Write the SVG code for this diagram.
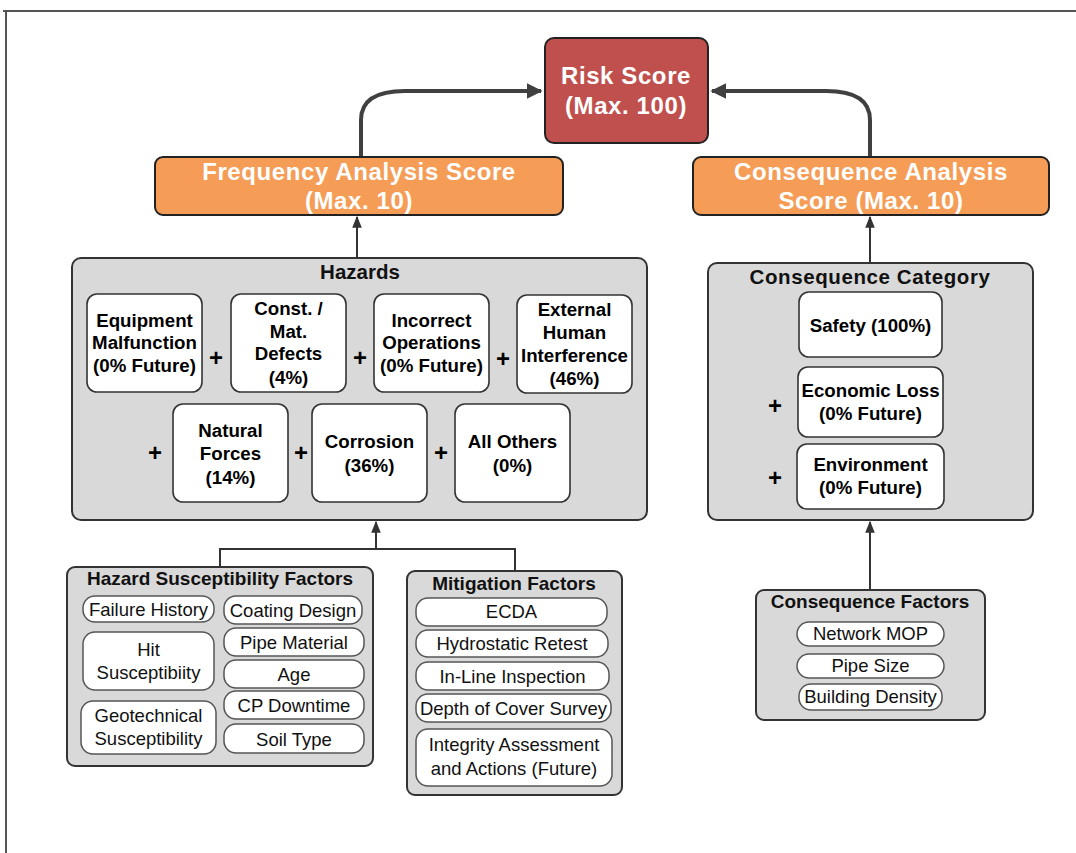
<svg xmlns="http://www.w3.org/2000/svg" width="1076" height="853" viewBox="0 0 1076 853">
<defs>
<style>
text{font-family:"Liberation Sans",Arial,sans-serif;text-anchor:middle;dominant-baseline:central}
.frame{stroke:#555;stroke-width:2;fill:none}
.top{fill:#fff;font-weight:bold;font-size:24px;letter-spacing:0.6px}
.red{fill:#c0504d;stroke:#222;stroke-width:2}
.orange{fill:#f59d56;stroke:#222;stroke-width:2}
.grp{fill:#d9d9d9;stroke:#333;stroke-width:2}
.item{fill:#fff;stroke:#333;stroke-width:1.6}
.pill{fill:#fff;stroke:#555;stroke-width:1.5}
.gt{font-weight:bold;font-size:20.5px;fill:#111}
.ft{font-weight:bold;font-size:19px;fill:#111}
.bt{font-weight:bold;font-size:18.7px;fill:#000}
.nt{font-size:18.5px;fill:#111}
.plus{font-weight:bold;font-size:24px;fill:#000}
.big{fill:none;stroke:#404040;stroke-width:4}
.thin{fill:none;stroke:#333;stroke-width:2}
</style>
<marker id="ah" viewBox="0 0 10 10" refX="9" refY="5" markerWidth="4" markerHeight="4" orient="auto"><path d="M0,0 L10,5 L0,10 z" fill="#404040"/></marker>
<marker id="as" viewBox="0 0 10 10" refX="9" refY="5" markerWidth="6" markerHeight="6" orient="auto"><path d="M0,1 L10,5 L0,9 z" fill="#333"/></marker>
</defs>
<rect width="1076" height="853" fill="#fff"/>
<g id="frame"><path class="frame" d="M3,11 H1076 M6,11 V853"/></g>

<g id="connectors">
<path class="big" d="M361,157 V120 Q361,91 405,91 H541" marker-end="url(#ah)"/>
<path class="big" d="M870,157 V120 Q870,91 826,91 H712" marker-end="url(#ah)"/>
<path class="thin" d="M357,258 V217" marker-end="url(#as)"/>
<path class="thin" d="M870,263 V217" marker-end="url(#as)"/>
<path class="thin" d="M220,567 V549 H515 V571"/>
<path class="thin" d="M376,549 V522" marker-end="url(#as)"/>
<path class="thin" d="M870,590 V522" marker-end="url(#as)"/>
</g>

<g id="risk">
<rect class="red" x="545" y="38" width="163" height="105" rx="9"/>
<text class="top" x="626" y="75">Risk Score</text>
<text class="top" x="626" y="105">(Max. 100)</text>
</g>
<g id="frequency">
<rect class="orange" x="155" y="157" width="408" height="58" rx="8"/>
<text class="top" x="359" y="171">Frequency Analysis Score</text>
<text class="top" x="359" y="200">(Max. 10)</text>
</g>
<g id="consequence">
<rect class="orange" x="693" y="157" width="356" height="58" rx="8"/>
<text class="top" x="871" y="171">Consequence Analysis</text>
<text class="top" x="871" y="200">Score (Max. 10)</text>
</g>

<g id="hazards">
<rect class="grp" x="72" y="258" width="575" height="262" rx="9"/>
<text class="gt" x="360" y="271">Hazards</text>
<g id="h-equipment"><rect class="item" x="87" y="294" width="115" height="98" rx="10"/>
<text class="bt" x="144.5" y="320">Equipment</text><text class="bt" x="144.5" y="342">Malfunction</text><text class="bt" x="144.5" y="365">(0% Future)</text></g>
<g id="h-const"><rect class="item" x="231" y="294" width="115" height="98" rx="10"/>
<text class="bt" x="288.5" y="308">Const. /</text><text class="bt" x="288.5" y="331">Mat.</text><text class="bt" x="288.5" y="353">Defects</text><text class="bt" x="288.5" y="377">(4%)</text></g>
<g id="h-incorrect"><rect class="item" x="374" y="294" width="115" height="98" rx="10"/>
<text class="bt" x="431.5" y="320">Incorrect</text><text class="bt" x="431.5" y="342">Operations</text><text class="bt" x="431.5" y="365">(0% Future)</text></g>
<g id="h-external"><rect class="item" x="517" y="295" width="115" height="98" rx="10"/>
<text class="bt" x="574.5" y="309">External</text><text class="bt" x="574.5" y="332">Human</text><text class="bt" x="574.5" y="355">Interference</text><text class="bt" x="574.5" y="378">(46%)</text></g>
<g id="h-natural"><rect class="item" x="173" y="404" width="115" height="98" rx="10"/>
<text class="bt" x="230.5" y="430">Natural</text><text class="bt" x="230.5" y="453">Forces</text><text class="bt" x="230.5" y="477">(14%)</text></g>
<g id="h-corrosion"><rect class="item" x="312" y="404" width="115" height="98" rx="10"/>
<text class="bt" x="369.5" y="441">Corrosion</text><text class="bt" x="369.5" y="465">(36%)</text></g>
<g id="h-others"><rect class="item" x="455" y="404" width="115" height="98" rx="10"/>
<text class="bt" x="512.5" y="441">All Others</text><text class="bt" x="512.5" y="465">(0%)</text></g>
<text class="plus" x="216" y="357">+</text>
<text class="plus" x="360" y="357">+</text>
<text class="plus" x="503" y="358">+</text>
<text class="plus" x="155" y="452">+</text>
<text class="plus" x="301" y="452">+</text>
<text class="plus" x="441" y="452">+</text>
</g>

<g id="consequence-category">
<rect class="grp" x="708" y="263" width="325" height="257" rx="9"/>
<text class="gt" x="870" y="276" style="letter-spacing:0.6px">Consequence Category</text>
<g id="c-safety"><rect class="item" x="799" y="292" width="143" height="65" rx="10"/>
<text class="bt" x="870.5" y="325">Safety (100%)</text></g>
<g id="c-economic"><rect class="item" x="798" y="367" width="145" height="70" rx="10"/>
<text class="bt" x="870.5" y="390">Economic Loss</text><text class="bt" x="870.5" y="413">(0% Future)</text></g>
<g id="c-environment"><rect class="item" x="797" y="444" width="147" height="65" rx="10"/>
<text class="bt" x="870.5" y="464">Environment</text><text class="bt" x="870.5" y="487">(0% Future)</text></g>
<text class="plus" x="775" y="405">+</text>
<text class="plus" x="775" y="477">+</text>
</g>

<g id="hazard-susceptibility">
<rect class="grp" x="67" y="567" width="306" height="199" rx="8"/>
<text class="ft" x="220" y="578">Hazard Susceptibility Factors</text>
<rect class="pill" x="83" y="596" width="131" height="26" rx="12"/><text class="nt" x="148.5" y="609">Failure History</text>
<rect class="pill" x="224" y="596" width="138" height="28" rx="12"/><text class="nt" x="293" y="610">Coating Design</text>
<rect class="pill" x="83" y="632" width="131" height="58" rx="12"/><text class="nt" x="148.5" y="649">Hit</text><text class="nt" x="148.5" y="672">Susceptibiity</text>
<rect class="pill" x="224" y="628" width="140" height="28" rx="12"/><text class="nt" x="294" y="642">Pipe Material</text>
<rect class="pill" x="224" y="660" width="140" height="28" rx="12"/><text class="nt" x="294" y="674">Age</text>
<rect class="pill" x="224" y="691" width="140" height="28" rx="12"/><text class="nt" x="294" y="705">CP Downtime</text>
<rect class="pill" x="81" y="701" width="135" height="53" rx="12"/><text class="nt" x="148.5" y="715">Geotechnical</text><text class="nt" x="148.5" y="738">Susceptibility</text>
<rect class="pill" x="224" y="724" width="140" height="29" rx="12"/><text class="nt" x="294" y="739">Soil Type</text>
</g>

<g id="mitigation">
<rect class="grp" x="407" y="571" width="215" height="224" rx="8"/>
<text class="ft" x="514" y="583">Mitigation Factors</text>
<rect class="pill" x="416" y="598" width="191" height="28" rx="12"/><text class="nt" x="511.5" y="611">ECDA</text>
<rect class="pill" x="416" y="630" width="192" height="27" rx="12"/><text class="nt" x="512" y="643">Hydrostatic Retest</text>
<rect class="pill" x="416" y="662" width="193" height="28" rx="12"/><text class="nt" x="512.5" y="676">In-Line Inspection</text>
<rect class="pill" x="416" y="694" width="195" height="28" rx="12"/><text class="nt" x="513.5" y="708">Depth of Cover Survey</text>
<rect class="pill" x="416" y="729" width="196" height="57" rx="12"/><text class="nt" x="514" y="744">Integrity Assessment</text><text class="nt" x="514" y="768">and Actions (Future)</text>
</g>

<g id="consequence-factors">
<rect class="grp" x="756" y="590" width="229" height="130" rx="8"/>
<text class="ft" x="870" y="601">Consequence Factors</text>
<rect class="pill" x="797" y="622" width="147" height="24" rx="12"/><text class="nt" x="870.5" y="633">Network MOP</text>
<rect class="pill" x="797" y="654" width="147" height="24" rx="12"/><text class="nt" x="870.5" y="665">Pipe Size</text>
<rect class="pill" x="799" y="684" width="143" height="26" rx="12"/><text class="nt" x="870.5" y="696">Building Density</text>
</g>
</svg>
